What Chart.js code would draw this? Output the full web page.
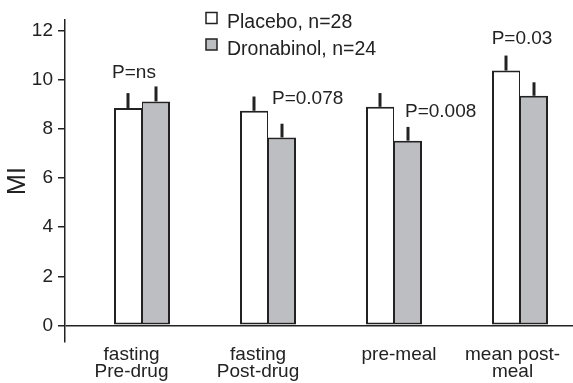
<!DOCTYPE html>
<html>
<head>
<meta charset="utf-8">
<style>
  html, body { margin: 0; padding: 0; background: #fff; }
  canvas { display: block; }
</style>
<script src="https://cdn.jsdelivr.net/npm/chart.js@4/dist/chart.umd.min.js"></script>
</head>
<body>
<canvas id="chart" width="573" height="383"></canvas>
<script>
// Measurement periods (one group of bars each)
const categories = [
  ['fasting', 'Pre-drug'],
  ['fasting', 'Post-drug'],
  ['pre-meal'],
  ['mean post-', 'meal']
];

// Series: group means and their upward error (SE)
const seriesNames = ['Placebo, n=28', 'Dronabinol, n=24'];
const placebo = [8.86, 8.75, 8.91, 10.39];
const placeboErr = [0.61, 0.58, 0.56, 0.61];
const dronabinol = [9.13, 7.66, 7.53, 9.36];
const dronabinolErr = [0.61, 0.56, 0.56, 0.55];

// Significance labels per group
const pLabels = ['P=ns', 'P=0.078', 'P=0.008', 'P=0.03'];

// Y axis ticks
const yTicks = [0, 2, 4, 6, 8, 10, 12];

const FONT = "'Liberation Sans', Arial, Helvetica, sans-serif";
const INK = '#222';
const GREY = '#bdbec2';

// Horizontal shift of each category label relative to its bar group (axis units)
const labelShift = [-0.083, -0.079, 0.04, -0.059];

// Placement of the P labels: offset from the group centre (px),
// alignment, and baseline offset from the top of the Dronabinol error bar (px)
const pLabelPlacement = [
  { dx: -8, align: 'center', dy: -8 },
  { dx: 4, align: 'left', dy: -20 },
  { dx: 11, align: 'left', dy: -10 },
  { dx: 2, align: 'center', dy: -38 }
];

const errorSets = [placeboErr, dronabinolErr];

// Upward-only error whiskers above each bar
const errorBars = {
  id: 'errorBars',
  afterDatasetsDraw(chart) {
    const ctx = chart.ctx;
    const y = chart.scales.y;
    ctx.save();
    ctx.strokeStyle = INK;
    ctx.lineWidth = 3;
    chart.data.datasets.forEach((ds, di) => {
      const meta = chart.getDatasetMeta(di);
      meta.data.forEach((bar, i) => {
        const v = ds.data[i].y;
        const top = y.getPixelForValue(v + errorSets[di][i]);
        ctx.beginPath();
        ctx.moveTo(bar.x, bar.y);
        ctx.lineTo(bar.x, top);
        ctx.stroke();
      });
    });
    ctx.restore();
  }
};

// P-value labels above each group
const pValueLabels = {
  id: 'pValueLabels',
  afterDatasetsDraw(chart) {
    const ctx = chart.ctx;
    const x = chart.scales.x;
    const y = chart.scales.y;
    ctx.save();
    ctx.fillStyle = INK;
    ctx.font = `19px ${FONT}`;
    ctx.textBaseline = 'alphabetic';
    pLabels.forEach((t, i) => {
      const p = pLabelPlacement[i];
      const cx = x.getPixelForValue(i) + p.dx;
      const top = y.getPixelForValue(dronabinol[i] + dronabinolErr[i]);
      ctx.textAlign = p.align;
      ctx.fillText(t, cx, top + p.dy);
    });
    ctx.restore();
  }
};

// Two-row legend inside the plot, near the top centre
const boxLegend = {
  id: 'boxLegend',
  afterDraw(chart) {
    const ctx = chart.ctx;
    ctx.save();
    ctx.font = `19.5px ${FONT}`;
    ctx.textAlign = 'left';
    ctx.textBaseline = 'alphabetic';
    chart.data.datasets.forEach((ds, i) => {
      const bx = 206, by = 12.5 + i * 26.5, size = 11;
      ctx.fillStyle = ds.backgroundColor;
      ctx.fillRect(bx, by, size, size);
      ctx.strokeStyle = INK;
      ctx.lineWidth = 1.5;
      ctx.strokeRect(bx, by, size, size);
      ctx.fillStyle = INK;
      ctx.fillText(ds.label, 227, 27.5 + i * 27.5);
    });
    ctx.restore();
  }
};

const toPoints = arr => arr.map((v, i) => ({ x: i, y: v }));

// Bars sit on whole pixels so neighbouring borders meet cleanly;
// the shared edge of a pair is split between the two bars
const barStyle = {
  borderColor: INK,
  borderSkipped: false,
  barThickness: 28,
  inflateAmount: 0
};

new Chart(document.getElementById('chart'), {
  type: 'bar',
  data: {
    datasets: [
      Object.assign({
        label: seriesNames[0],
        data: toPoints(placebo),
        backgroundColor: '#ffffff',
        borderWidth: { top: 2, left: 2, bottom: 2, right: 1 }
      }, barStyle),
      Object.assign({
        label: seriesNames[1],
        data: toPoints(dronabinol),
        backgroundColor: GREY,
        borderWidth: { top: 2, left: 1, bottom: 2, right: 2 }
      }, barStyle)
    ]
  },
  options: {
    responsive: false,
    animation: false,
    devicePixelRatio: 1,
    layout: { padding: { top: 20, right: 0, bottom: 0, left: 0 } },
    plugins: {
      legend: { display: false },
      tooltip: { enabled: false }
    },
    scales: {
      x: {
        type: 'linear',
        min: -77 / 126,
        max: -77 / 126 + 508 / 126,
        offset: false,
        grid: { display: false },
        border: { display: false },
        afterBuildTicks(scale) {
          scale.ticks = categories.map((_, i) => ({ value: i + labelShift[i] }));
        },
        afterFit(scale) { scale.height = 41; },
        ticks: {
          autoSkip: false,
          maxRotation: 0,
          minRotation: 0,
          padding: -3.5,
          color: INK,
          font: { family: FONT, size: 19, lineHeight: 0.88 },
          callback: (v, i) => categories[i]
        }
      },
      y: {
        min: -0.68,
        max: 12.45,
        afterBuildTicks(scale) {
          scale.ticks = yTicks.map(v => ({ value: v }));
        },
        afterFit(scale) { scale.width = 65; },
        border: { display: true, color: INK, width: 1.5 },
        grid: {
          drawOnChartArea: true,
          drawTicks: true,
          tickLength: 7,
          lineWidth: 1.5,
          color: (c) => (c.tick && c.tick.value === 0 ? INK : 'rgba(0,0,0,0)'),
          tickColor: INK
        },
        ticks: {
          padding: 5,
          color: INK,
          font: { family: FONT, size: 19 }
        },
        title: {
          display: true,
          text: 'MI',
          color: INK,
          font: { family: FONT, size: 25, lineHeight: 1.2 },
          padding: { top: 3, bottom: 0 }
        }
      }
    }
  },
  plugins: [errorBars, pValueLabels, boxLegend]
});
</script>
</body>
</html>
